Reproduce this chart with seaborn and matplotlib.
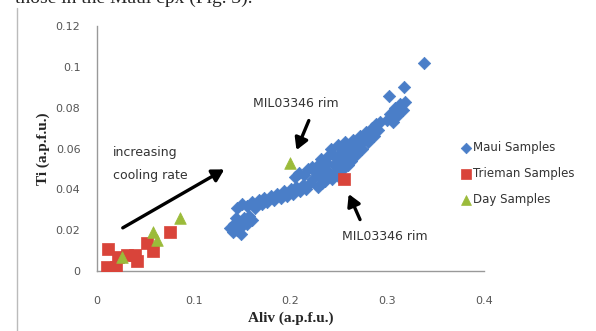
import numpy as np
import pandas as pd
import matplotlib
matplotlib.use("Agg")
import matplotlib.pyplot as plt
import seaborn as sns

# Maui samples (blue diamonds)
maui_x = [0.137, 0.140, 0.142, 0.145, 0.147, 0.150, 0.152, 0.155, 0.157, 0.160, 0.144, 0.149,
          0.145, 0.150, 0.155, 0.160, 0.163, 0.167, 0.170, 0.173, 0.176, 0.180, 0.183, 0.186,
          0.190, 0.193, 0.196, 0.200, 0.203, 0.206, 0.210, 0.213, 0.216, 0.220,
          0.205, 0.209, 0.214, 0.218, 0.222,
          0.223, 0.226, 0.228, 0.230, 0.232, 0.234, 0.236, 0.238, 0.240, 0.240, 0.242, 0.243,
          0.245, 0.246, 0.248, 0.249, 0.250, 0.251, 0.252, 0.254, 0.255, 0.256, 0.258, 0.259,
          0.260, 0.262, 0.263, 0.265, 0.266, 0.268, 0.270, 0.272, 0.274, 0.276, 0.278, 0.280,
          0.282, 0.284, 0.286, 0.288, 0.290, 0.292, 0.228, 0.233, 0.238, 0.244, 0.236, 0.248,
          0.300, 0.303, 0.306, 0.308, 0.310, 0.313, 0.316, 0.318,
          0.302, 0.317, 0.338]
maui_y = [0.021, 0.019, 0.023, 0.020, 0.024, 0.022, 0.026, 0.023, 0.027, 0.025, 0.026, 0.018,
          0.031, 0.033, 0.032, 0.034, 0.031, 0.035, 0.033, 0.036, 0.034, 0.037, 0.035, 0.038,
          0.036, 0.039, 0.037, 0.040, 0.038, 0.041, 0.039, 0.042, 0.040, 0.043,
          0.046, 0.048, 0.047, 0.050, 0.051,
          0.045, 0.048, 0.052, 0.046, 0.055, 0.050, 0.044, 0.053, 0.057, 0.048, 0.060, 0.045,
          0.052, 0.056, 0.049, 0.062, 0.046, 0.058, 0.054, 0.050, 0.060, 0.063, 0.056, 0.052,
          0.061, 0.058, 0.054, 0.064, 0.060, 0.057, 0.062, 0.066, 0.060, 0.064, 0.068, 0.063,
          0.067, 0.070, 0.066, 0.072, 0.069, 0.073, 0.041, 0.043, 0.047, 0.047, 0.050, 0.053,
          0.074, 0.077, 0.073, 0.080, 0.076, 0.082, 0.079, 0.083,
          0.086, 0.090, 0.102]

# Trieman samples (red squares)
trieman_x = [0.011, 0.010, 0.019, 0.022, 0.031, 0.039, 0.041, 0.052, 0.058, 0.075, 0.255]
trieman_y = [0.011, 0.002, 0.002, 0.007, 0.008, 0.008, 0.005, 0.014, 0.010, 0.019, 0.045]

# Day samples (green triangles)
day_x = [0.026, 0.058, 0.062, 0.086, 0.199]
day_y = [0.007, 0.019, 0.015, 0.026, 0.053]

x_ticks = [0, 0.1, 0.2, 0.3, 0.4]
y_ticks = [0, 0.02, 0.04, 0.06, 0.08, 0.1, 0.12]

sns.set_style("white")
plt.rcParams['font.family'] = ['DejaVu Sans']

fig = plt.figure(figsize=(5.96, 3.31), dpi=100)
ax = fig.add_axes([0.163, 0.181, 0.649, 0.74])

blue, red, green = "#4A7EC8", "#D9443A", "#9BBB3A"
sns.scatterplot(x=maui_x, y=maui_y, marker="D", s=40, color=blue, edgecolor=blue,
                linewidth=0.5, label="Maui Samples", ax=ax, zorder=3)
sns.scatterplot(x=trieman_x, y=trieman_y, marker="s", s=70, color=red, edgecolor=red,
                linewidth=0.5, label="Trieman Samples", ax=ax, zorder=3)
sns.scatterplot(x=day_x, y=day_y, marker="^", s=70, color=green, edgecolor=green,
                linewidth=0.5, label="Day Samples", ax=ax, zorder=4)

ax.set_xlim(0, 0.4)
ax.set_ylim(0, 0.12)
ax.set_xticks(x_ticks)
ax.set_xticklabels(["0", "0.1", "0.2", "0.3", "0.4"])
ax.set_yticks(y_ticks)
ax.set_yticklabels(["0", "0.02", "0.04", "0.06", "0.08", "0.1", "0.12"])
ax.tick_params(axis="both", labelsize=8, colors="#555555", length=4, width=0.8)
ax.tick_params(axis="x", pad=14)
ax.tick_params(axis="y", pad=8)
for s in ["top", "right"]:
    ax.spines[s].set_visible(False)
for s in ["left", "bottom"]:
    ax.spines[s].set_color("#999999")
    ax.spines[s].set_linewidth(1.0)

ax.set_xlabel("Aliv (a.p.f.u.)", family="Liberation Serif", fontweight="bold", fontsize=11,
              labelpad=4)
ax.set_ylabel("Ti (a.p.f.u.)", family="Liberation Serif", fontweight="bold", fontsize=11,
              labelpad=4)

arrow = dict(arrowstyle="-|>,head_length=0.7,head_width=0.4", color="black", lw=2.4)
ax.annotate("", xy=(0.134, 0.0505), xytext=(0.024, 0.0205), arrowprops=arrow)
ax.text(0.016, 0.058, "increasing", fontsize=9, color="#333333", va="center")
ax.text(0.016, 0.047, "cooling rate", fontsize=9, color="#333333", va="center")
ax.annotate("", xy=(0.205, 0.058), xytext=(0.22, 0.075), arrowprops=arrow)
ax.text(0.205, 0.082, "MIL03346 rim", fontsize=9, color="#333333", ha="center", va="center")
ax.annotate("", xy=(0.259, 0.039), xytext=(0.273, 0.024), arrowprops=arrow)
ax.text(0.297, 0.017, "MIL03346 rim", fontsize=9, color="#333333", ha="center", va="center")

leg = ax.legend(loc="center left", bbox_to_anchor=(0.91, 0.40), frameon=False, fontsize=8.5,
                handletextpad=0.1, labelspacing=1.1, markerscale=0.85, handlelength=1.0)
for t in leg.get_texts():
    t.set_color("#333333")

fig.text(0.025, 1.005, "those in the Maui cpx (Fig. 3).", family="Liberation Serif",
         fontsize=14, va="center", ha="left")
fig.add_artist(plt.Line2D([0.029, 0.029], [0, 0.975], color="#bbbbbb", lw=1.0,
                          transform=fig.transFigure))

fig.savefig("out.png", dpi=100)
